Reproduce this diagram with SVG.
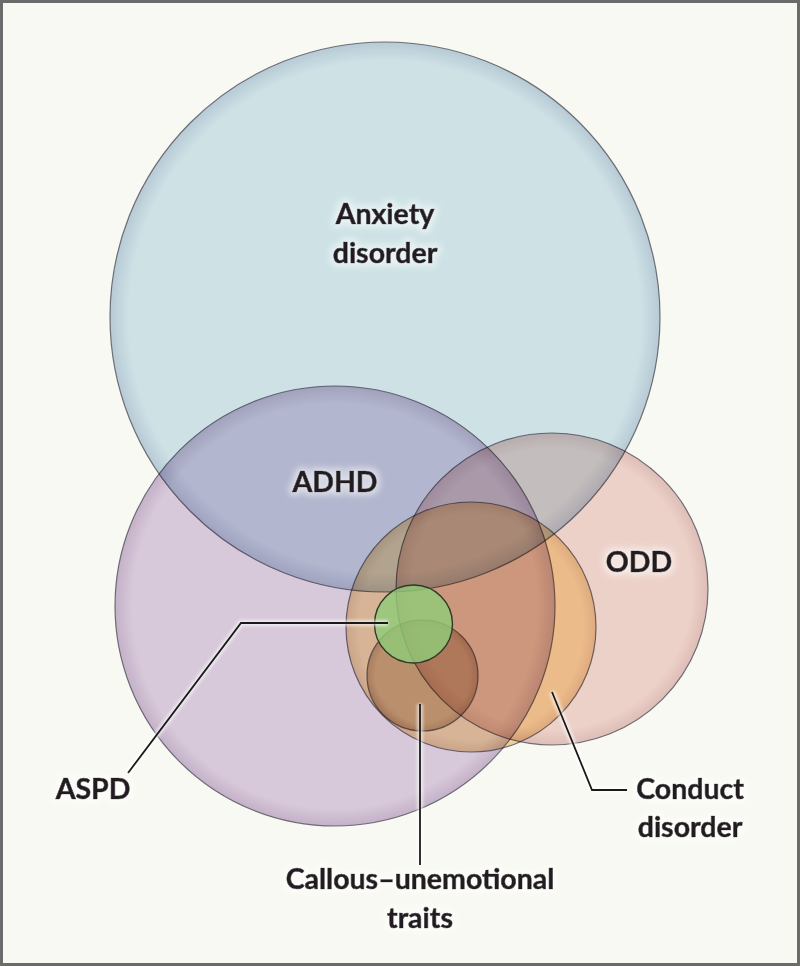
<svg xmlns="http://www.w3.org/2000/svg" width="800" height="966" viewBox="0 0 800 966">
<style>
.set{mix-blend-mode:multiply;stroke:#4a4a55;stroke-opacity:0.75;stroke-width:1.2}
.lbl{font-family:Lato,"Open Sans","Liberation Sans",sans-serif;font-weight:700;font-size:28.5px;fill:#231f20;stroke:#231f20;stroke-width:0.7;text-anchor:middle;filter:url(#glow)}
.halo{fill:none;stroke:#ffffff;stroke-opacity:0.6;stroke-width:6;stroke-linejoin:miter}
.lead{fill:none;stroke:#1a1a1a;stroke-width:1.8;stroke-linejoin:miter}
</style>
<defs>
<filter id="glow" x="-20%" y="-50%" width="140%" height="200%">
<feMorphology in="SourceAlpha" operator="dilate" radius="3" result="d"/>
<feGaussianBlur in="d" stdDeviation="3" result="b"/>
<feFlood flood-color="#ffffff" flood-opacity="0.55"/>
<feComposite in2="b" operator="in" result="g"/>
<feMerge><feMergeNode in="g"/><feMergeNode in="SourceGraphic"/></feMerge>
</filter>
<filter id="soft" x="-5%" y="-5%" width="110%" height="110%"><feGaussianBlur stdDeviation="1.5"/></filter>
<radialGradient id="gAnx"><stop offset="0.93" stop-color="#d3e8f2"/><stop offset="1" stop-color="#bccfe0"/></radialGradient>
<radialGradient id="gAdhd"><stop offset="0.92" stop-color="#ddcee5"/><stop offset="1" stop-color="#c9b6d2"/></radialGradient>
<radialGradient id="gOdd"><stop offset="0.9" stop-color="#f2d6d2"/><stop offset="1" stop-color="#e4c2c0"/></radialGradient>
<radialGradient id="gCd"><stop offset="0.9" stop-color="#ffe4b0"/><stop offset="1" stop-color="#f0d0a0"/></radialGradient>
<radialGradient id="gCu"><stop offset="0.85" stop-color="#dccab8"/><stop offset="1" stop-color="#c9b2a0"/></radialGradient>
</defs>
<rect x="1.5" y="1.5" width="797" height="963" fill="#f9f9f3" stroke="#6b6b6b" stroke-width="3"/>
<g id="anxiety"><circle class="set" cx="385" cy="317" r="275" fill="url(#gAnx)"/></g>
<g id="adhd"><circle class="set" cx="335" cy="606" r="220" fill="url(#gAdhd)"/></g>
<g id="odd"><circle class="set" cx="552" cy="589" r="156" fill="url(#gOdd)"/></g>
<g id="conduct"><circle class="set" cx="471" cy="627" r="125" fill="url(#gCd)"/></g>
<g id="cu"><circle class="set" cx="422.5" cy="675.5" r="55.5" fill="url(#gCu)"/></g>
<g id="aspd"><circle cx="413.5" cy="624" r="39" fill="#90cc78" fill-opacity="0.8" stroke="#2e3a2a" stroke-width="1.4"/></g>
<g id="connectors">
<g filter="url(#soft)">
<polyline class="halo" points="388,623 241,623 128,773"/>
<polyline class="halo" points="420,704 420,865"/>
<polyline class="halo" points="552,692 592,790 627,790"/>
</g>
<polyline class="lead" points="388,623 241,623 128,773"/>
<polyline class="lead" points="420,704 420,865"/>
<polyline class="lead" points="552,692 592,790 627,790"/>
</g>
<g id="labels">
<text class="lbl" x="385" y="224">Anxiety</text>
<text class="lbl" x="385" y="263">disorder</text>
<text class="lbl" x="335" y="492">ADHD</text>
<text class="lbl" x="639" y="572">ODD</text>
<text class="lbl" x="93" y="799">ASPD</text>
<text class="lbl" x="690" y="799">Conduct</text>
<text class="lbl" x="690" y="837">disorder</text>
<text class="lbl" x="420" y="889">Callous–unemotional</text>
<text class="lbl" x="420" y="928">traits</text>
</g>
</svg>
